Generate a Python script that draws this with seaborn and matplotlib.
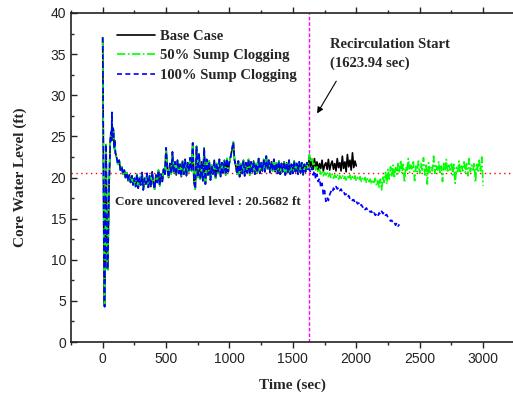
import numpy as np
import pandas as pd
import matplotlib
matplotlib.use("Agg")
import matplotlib.pyplot as plt
import seaborn as sns

# ---------------- data ----------------
# early transient, shared by all cases
early_t = [0, 3, 6, 9, 12, 15, 18, 21, 24, 27, 30, 33, 36, 40, 45, 50, 55, 60,
           65, 70, 73, 76, 80, 85, 90, 95]
early_v = [37.0, 30.0, 20.0, 12.0, 5.0, 4.3, 8.0, 15.0, 22.0, 24.0, 18.0, 12.0,
           9.0, 8.8, 14.0, 19.0, 22.0, 24.5, 25.5, 24.5, 27.9, 25.0, 26.0, 25.8,
           23.5, 24.5]
# 100 .. 1620 s every 10 s, shared by all cases (before recirculation)
pre_v = [
    23.0, 22.4, 21.6, 22.1, 20.9, 21.3, 20.4, 20.9, 20.0, 20.6, 19.6, 20.3, 19.4, 20.2, 19.1, 19.9,
    18.9, 20.4, 18.7, 20.0, 19.1, 20.6, 18.5, 19.9, 19.2, 20.5, 18.8, 20.2, 18.9, 20.7, 19.3, 18.6,
    20.3, 19.4, 20.9, 19.0, 20.4, 19.5, 21.0, 20.4,
    23.6, 21.0, 20.0, 21.7, 20.4, 23.1, 20.6, 21.9, 20.3, 22.1, 20.5, 21.6, 20.1, 22.0, 20.4, 22.2,
    20.2, 21.8, 20.7, 22.4, 20.8, 24.2, 19.5, 18.6, 23.8, 20.0, 22.9, 19.8, 21.9, 19.6, 23.6, 19.2,
    22.2, 20.3, 22.0, 19.7, 21.5, 20.4, 22.1, 19.9, 21.7, 20.5, 22.2, 20.1, 21.8, 20.6, 22.1, 20.3,
    22.3, 20.7, 21.9, 22.6, 23.4, 24.3, 22.1, 21.4, 20.4, 22.0, 20.1, 21.7, 20.5, 22.1, 20.2, 21.8,
    20.6, 22.2, 20.3, 21.9, 20.7, 22.0, 20.4, 21.7, 20.6, 22.3, 20.5, 21.8, 20.8, 22.2, 20.7, 22.6,
    21.0, 22.1, 20.6, 21.9, 20.8, 22.2, 20.7, 21.8, 20.5, 22.0, 20.4, 21.7, 20.7, 21.9, 20.3, 21.8,
    20.6, 22.1, 20.4, 21.6, 20.5, 22.0, 20.7, 21.7, 20.4, 21.9, 20.6, 21.8, 20.3, 21.6, 20.7, 21.8,
    21.0]
# after recirculation start, from 1630 s every 10 s
base_post = [
    22.6, 21.3, 22.1, 21.0, 22.3, 21.2, 21.9, 20.9, 21.7, 21.1, 22.1, 20.8, 21.5, 21.8, 21.0, 22.2,
    20.9, 21.6, 22.0, 21.0, 21.7, 20.8, 22.3, 21.2, 21.8, 20.8, 22.6, 21.1, 21.9, 20.7, 22.8, 21.3,
    22.1, 20.9, 23.0, 21.2, 22.0, 21.4]
clog50_post = [
    22.8, 21.9, 22.3, 21.4, 21.7, 20.9, 21.3, 20.6, 21.0, 20.4, 20.8, 20.2, 20.6, 20.3, 20.7, 20.1,
    20.5, 20.0, 20.4, 19.9, 20.3, 20.0, 20.4, 19.8, 20.2, 19.9, 20.3, 19.8, 20.1, 19.7, 20.2, 19.8,
    20.3, 19.7, 20.1, 19.8, 20.2, 19.6, 20.0, 19.7, 20.1, 19.5, 19.9, 19.6, 20.0, 19.4, 19.9, 19.5,
    19.8, 19.2, 19.7, 19.4, 19.9, 19.0, 19.6, 18.7, 19.8, 18.5, 20.2, 19.4, 20.6, 19.2, 21.0, 19.8,
    21.3, 20.1, 21.5, 19.9,
    21.2, 20.4, 21.8, 20.7, 22.1, 20.5, 21.6, 19.4, 21.3, 20.8, 22.3, 20.6, 21.5, 20.9, 21.9, 19.6,
    21.4, 20.7, 22.0, 20.5, 21.7, 20.9, 22.4, 20.3, 21.5, 19.2, 21.8, 20.6, 21.3, 20.8, 22.6, 20.5,
    21.6, 20.9, 21.9, 20.4, 21.4, 19.5, 21.7, 20.8, 22.2, 20.6, 21.5, 20.9, 21.8, 20.3, 21.6, 19.3,
    21.2, 20.7, 22.0, 20.5, 21.4, 20.8, 21.9, 20.6, 21.7, 20.2, 22.3, 20.7, 21.5, 20.9, 21.8, 19.4,
    21.6, 20.6, 22.1, 20.8, 22.5, 19.0]
clog100_post = [
    21.0, 20.6, 21.2, 20.3, 20.8, 19.8, 20.4, 19.5, 19.9, 18.8, 19.3, 17.9, 18.4, 17.1, 17.6, 17.2,
    17.9, 18.3, 18.1, 18.7, 18.5, 18.9, 18.6, 18.8, 18.4, 18.6, 18.2, 18.3, 17.9, 18.0, 17.6, 17.8,
    17.4, 17.5, 17.2, 17.3, 16.9, 17.1, 16.8, 16.9, 16.5, 16.7, 16.4, 16.5, 16.1, 16.3, 16.0, 16.1,
    15.8, 15.9, 15.5, 15.7, 15.4, 15.6, 15.3, 15.7, 15.5, 15.9, 15.6, 15.8, 15.4, 15.5, 15.1, 15.0,
    14.7, 14.8, 14.4, 14.5, 14.2, 14.5, 14.1, 14.3]

labels = ["Base Case", "50% Sump Clogging", "100% Sump Clogging"]
colors = ["black", "#00ff00", "#0000ff"]
recirc_t = 1623.94
uncovered = 20.5682
x_ticks = [0, 500, 1000, 1500, 2000, 2500, 3000]
y_ticks = [0, 5, 10, 15, 20, 25, 30, 35, 40]

# ---------------- build tables ----------------
pre_t = list(np.arange(100, 100 + 10 * len(pre_v), 10))
common_t = early_t + pre_t
common_v = early_v + pre_v

def series(post):
    t = common_t + list(np.arange(1630, 1630 + 10 * len(post), 10))
    v = common_v + post
    return pd.DataFrame({"t": t, "v": v})

frames = [series(base_post), series(clog50_post), series(clog100_post)]

# ---------------- figure ----------------
sns.set_style("ticks")
plt.rcParams["font.family"] = ["Liberation Sans", "DejaVu Sans"]
serif = ["Liberation Serif", "DejaVu Serif"]

fig = plt.figure(figsize=(5.13, 3.96), dpi=100)
ax = fig.add_axes([71 / 513, 54 / 396, 442 / 513, 329 / 396])

styles = ["-", (0, (5, 1.5, 1, 1.5)), (0, (3, 2))]
for df, lab, c, ls in zip(frames, labels, colors, styles):
    sns.lineplot(data=df, x="t", y="v", ax=ax, color=c, lw=1.2, linestyle=ls,
                 estimator=None, sort=False, label=lab)

ax.axhline(uncovered, color="red", ls=(0, (1, 2.5)), lw=1.0, zorder=1)
ax.axvline(recirc_t, color="magenta", ls=(0, (2.5, 1.5)), lw=1.0, zorder=1)

ax.set_xlim(-250, 3236)
ax.set_ylim(0, 40)
ax.set_xticks(x_ticks)
ax.set_yticks(y_ticks)
ax.set_xticks(np.arange(-250, 3250, 250), minor=True)
ax.set_yticks(np.arange(0, 40.1, 2.5), minor=True)
ax.tick_params(axis="both", which="major", direction="out", length=4, width=1,
               labelsize=10, colors="#222222")
ax.tick_params(axis="both", which="minor", direction="out", length=2.5, width=1)
ax.tick_params(top=True, which="both", direction="in")
ax.tick_params(axis="x", which="both", bottom=True, direction="out")
for s in ["left", "bottom", "top"]:
    ax.spines[s].set_linewidth(1.2)
    ax.spines[s].set_color("#222222")
ax.spines["right"].set_visible(False)

ax.set_xlabel("Time (sec)", fontsize=11, fontweight="bold", family=serif, labelpad=9)
ax.set_ylabel("Core Water Level (ft)", fontsize=11, fontweight="bold", family=serif, labelpad=17)

leg = ax.legend(loc="upper left", bbox_to_anchor=(0.075, 0.99), frameon=False,
                handlelength=2.6, handletextpad=0.3, labelspacing=0.45,
                prop={"family": serif, "weight": "bold", "size": 10.5})

ax.text(1790, 36.9, "Recirculation Start\n(1623.94 sec)", fontsize=10.5,
        fontweight="bold", family=serif, va="top", ha="left", linespacing=1.45)
ax.annotate("", xy=(1680, 27.5), xytext=(1853, 32.0),
            arrowprops=dict(arrowstyle="-|>", color="black", lw=0.8,
                            mutation_scale=9))
ax.text(97, 17.0, "Core uncovered level : 20.5682 ft", fontsize=9.5,
        fontweight="bold", family=serif, va="center", ha="left")

fig.savefig("out.png", dpi=100)
